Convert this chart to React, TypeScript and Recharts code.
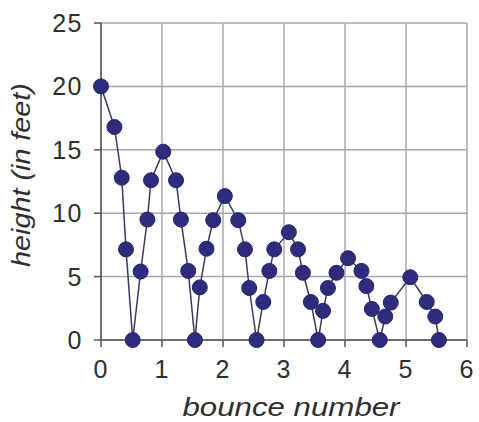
import { LineChart, Line, XAxis, YAxis, CartesianGrid } from "recharts"

const bounceX = [
  0, 0.22, 0.34, 0.41, 0.52, 0.65, 0.76, 0.82, 1.02, 1.23, 1.31, 1.43, 1.54, 1.62, 1.73,
  1.84, 2.03, 2.25, 2.36, 2.43, 2.55, 2.66, 2.76, 2.84, 3.08, 3.23, 3.31, 3.44, 3.56, 3.64,
  3.72, 3.86, 4.05, 4.27, 4.35, 4.44, 4.57, 4.66, 4.75, 5.07, 5.34, 5.48, 5.54,
]
const heightFt = [
  20, 16.8, 12.8, 7.15, 0, 5.4, 9.5, 12.6, 14.85, 12.6, 9.5, 5.45, 0, 4.15, 7.2,
  9.45, 11.35, 9.45, 7.15, 4.1, 0, 3.0, 5.45, 7.15, 8.5, 7.15, 5.3, 3.0, 0, 2.3,
  4.1, 5.3, 6.45, 5.45, 4.25, 2.45, 0, 1.85, 2.95, 4.95, 3.0, 1.85, 0,
]
const xTicks = [0, 1, 2, 3, 4, 5, 6]
const yTicks = [0, 5, 10, 15, 20, 25]

const data = bounceX.map((x, i) => ({ x, h: heightFt[i] }))

const font = "'Liberation Sans', Arial, sans-serif"
const textColor = "#2e2e2e"

// eslint-disable-next-line @typescript-eslint/no-explicit-any
function XTick({ x, y, payload }: any) {
  return (
    <text x={x} y={y + 29} textAnchor="middle" fontFamily={font} fontSize={25} fill={textColor} letterSpacing={1}>
      {payload.value}
    </text>
  )
}

// eslint-disable-next-line @typescript-eslint/no-explicit-any
function YTick({ x, y, payload }: any) {
  return (
    <text x={x - 9} y={y + 9} textAnchor="end" fontFamily={font} fontSize={25} fill={textColor} letterSpacing={1.5}>
      {payload.value}
    </text>
  )
}

// eslint-disable-next-line @typescript-eslint/no-explicit-any
function Dot({ cx, cy }: any) {
  return <circle cx={cx} cy={cy} r={7.5} fill="#2f2c7e" stroke="#25236a" strokeWidth={1} />
}

// the source picture has its lettering stretched sideways
const xLabel = () => (
  <text
    transform="translate(291 416) scale(1.25 1)"
    textAnchor="middle"
    fontFamily={font}
    fontSize={25}
    fontStyle="italic"
    fill={textColor}
  >
    bounce number
  </text>
)

const yLabel = () => (
  <text
    transform="translate(30 175) rotate(-90) scale(1.15 1)"
    textAnchor="middle"
    fontFamily={font}
    fontSize={25}
    fontStyle="italic"
    fill={textColor}
  >
    height (in feet)
  </text>
)

export default function App() {
  return (
    <div style={{ position: "absolute", left: 0, top: 0, background: "#fff" }}>
      <LineChart width={479} height={422} data={data} margin={{ top: 23, right: 12, bottom: 0, left: 0 }}>
        <CartesianGrid stroke="#a8a8a8" strokeWidth={1.5} />
        <XAxis
          type="number"
          dataKey="x"
          domain={[0, 6]}
          ticks={xTicks}
          height={82}
          axisLine={{ stroke: "#555", strokeWidth: 1.5 }}
          tickLine={{ stroke: "#555", strokeWidth: 1.5 }}
          tickSize={7}
          tick={<XTick />}
          label={{ content: xLabel }}
        />
        <YAxis
          type="number"
          domain={[0, 25]}
          ticks={yTicks}
          width={101}
          axisLine={{ stroke: "#555", strokeWidth: 1.5 }}
          tickLine={{ stroke: "#555", strokeWidth: 1.5 }}
          tickSize={7}
          tick={<YTick />}
          label={{ content: yLabel }}
        />
        <Line
          type="linear"
          dataKey="h"
          stroke="#3a3960"
          strokeWidth={1.5}
          dot={<Dot />}
          activeDot={false}
          isAnimationActive={false}
        />
      </LineChart>
    </div>
  )
}
